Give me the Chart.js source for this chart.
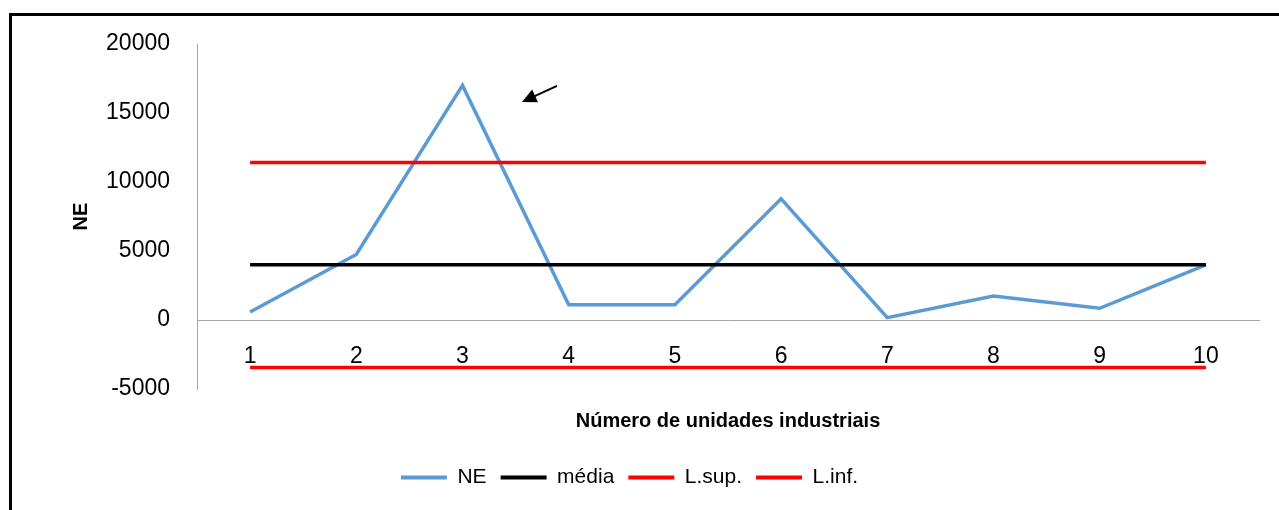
<!DOCTYPE html>
<html>
<head>
<meta charset="utf-8">
<script src="https://cdn.jsdelivr.net/npm/chart.js@4/dist/chart.umd.min.js"></script>
<style>
    html, body { margin: 0; padding: 0; background: #fff; }
    #wrap { position: relative; width: 1279px; height: 510px; }
    #frame {
        position: absolute; left: 9px; top: 13px; right: 0; bottom: 0;
        border-top: 3px solid #000; border-left: 3px solid #000;
        pointer-events: none;
    }
</style>
</head>
<body>
<div id="wrap">
    <canvas id="chart" width="1279" height="510"></canvas>
    <div id="frame"></div>
</div>
<script>
// ============================================
// DATA
// ============================================
const categories = ['1', '2', '3', '4', '5', '6', '7', '8', '9', '10'];
const neValues = [580, 4750, 17000, 1110, 1100, 8780, 170, 1730, 850, 4000];
const mediaValues = [4000, 4000, 4000, 4000, 4000, 4000, 4000, 4000, 4000, 4000];
const lSupValues = [11420, 11420, 11420, 11420, 11420, 11420, 11420, 11420, 11420, 11420];
const lInfValues = [-3440, -3440, -3440, -3440, -3440, -3440, -3440, -3440, -3440, -3440];
const yTicks = [-5000, 0, 5000, 10000, 15000, 20000];

// arrow annotation, in data units (category index, value)
const arrowFrom = [2.89, 16970];
const arrowTo = [2.56, 15800];

const FONT = "'Liberation Sans', Arial, sans-serif";

function lineSet(label, data, color) {
    return {
        label: label,
        data: data,
        borderColor: color,
        backgroundColor: color,
        borderWidth: 3.5,
        pointRadius: 0,
        tension: 0,
        fill: false
    };
}

// arrow drawn through the scales
const arrowPlugin = {
    id: 'arrow',
    afterDatasetsDraw(chart) {
        const { ctx, scales: { x, y } } = chart;
        const x0 = x.getPixelForValue(arrowFrom[0]), y0 = y.getPixelForValue(arrowFrom[1]);
        const x1 = x.getPixelForValue(arrowTo[0]), y1 = y.getPixelForValue(arrowTo[1]);
        const ang = Math.atan2(y1 - y0, x1 - x0);
        const head = 16;
        ctx.save();
        ctx.strokeStyle = '#000';
        ctx.fillStyle = '#000';
        ctx.lineWidth = 2;
        ctx.beginPath();
        ctx.moveTo(x0, y0);
        ctx.lineTo(x1 - Math.cos(ang) * head * 0.8, y1 - Math.sin(ang) * head * 0.8);
        ctx.stroke();
        ctx.beginPath();
        ctx.moveTo(x1, y1);
        ctx.lineTo(x1 - head * Math.cos(ang - 0.45), y1 - head * Math.sin(ang - 0.45));
        ctx.lineTo(x1 - head * Math.cos(ang + 0.45), y1 - head * Math.sin(ang + 0.45));
        ctx.closePath();
        ctx.fill();
        ctx.restore();
    }
};

// ============================================
// CHART
// ============================================
new Chart(document.getElementById('chart'), {
    type: 'line',
    data: {
        labels: categories,
        // reversed so NE is drawn underneath
        datasets: [
            lineSet('L.inf.', lInfValues, '#ff0000'),
            lineSet('L.sup.', lSupValues, '#ff0000'),
            lineSet('média', mediaValues, '#000000'),
            lineSet('NE', neValues, '#5b9bd5')
        ]
    },
    options: {
        responsive: false,
        animation: false,
        layout: { padding: { top: 44, right: 20, bottom: 12, left: 0 } },
        plugins: {
            tooltip: { enabled: false },
            legend: {
                position: 'bottom',
                reverse: true,
                labels: {
                    color: '#000',
                    font: { family: FONT, size: 21 },
                    boxWidth: 46,
                    boxHeight: 4,
                    padding: 14,
                    generateLabels(chart) {
                        return chart.data.datasets.map((ds, i) => ({
                            text: ds.label,
                            fillStyle: ds.borderColor,
                            strokeStyle: ds.borderColor,
                            lineWidth: 0,
                            datasetIndex: i
                        }));
                    }
                }
            },
            title: {
                display: true,
                position: 'bottom',
                weight: 500,
                fullSize: false,
                text: 'Número de unidades industriais',
                color: '#000',
                font: { family: FONT, size: 20, weight: 'bold' },
                padding: { top: 20, bottom: 20 }
            }
        },
        scales: {
            x: {
                position: { y: 0 },
                offset: true,
                grid: { display: false, drawTicks: false },
                border: { color: '#a6a6a6', width: 1 },
                ticks: {
                    color: '#000',
                    font: { family: FONT, size: 23 },
                    padding: 23,
                    maxRotation: 0
                }
            },
            y: {
                min: -5000,
                max: 20000,
                afterBuildTicks(axis) {
                    axis.ticks = yTicks.map(v => ({ value: v }));
                },
                afterFit(axis) {
                    axis.width = 197;
                },
                grid: { display: false, drawTicks: false },
                border: { color: '#a6a6a6', width: 1 },
                ticks: {
                    color: '#000',
                    font: { family: FONT, size: 23 },
                    padding: 27,
                    callback: v => String(v)
                },
                title: {
                    display: true,
                    text: 'NE',
                    color: '#000',
                    font: { family: FONT, size: 20, weight: 'bold' },
                    padding: { top: 69, bottom: 0 }
                }
            }
        }
    },
    plugins: [arrowPlugin]
});
</script>
</body>
</html>
